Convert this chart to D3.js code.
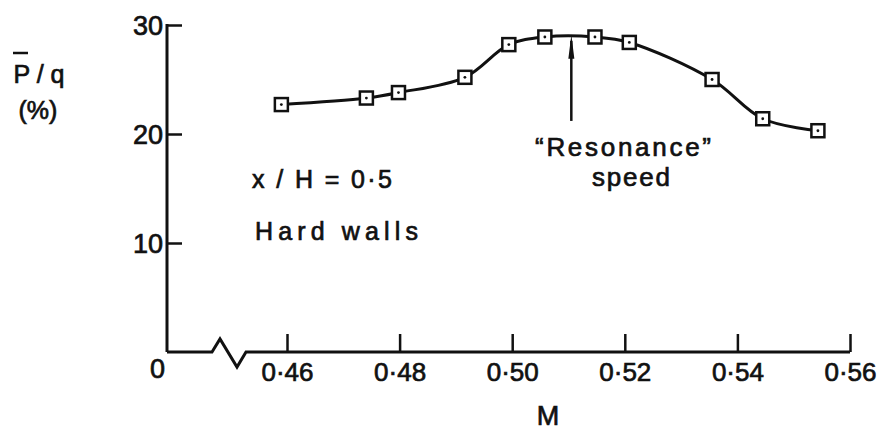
<!DOCTYPE html>
<meta charset="utf-8">
<script src="https://d3js.org/d3.v7.min.js"></script>
<style>
  body { margin: 0; background: #fff; }
  text { font-family: "Liberation Sans", Arial, sans-serif; fill: #111; stroke: #111; stroke-width: 0.7px; }
</style>
<div id="chart"></div>
<script>

// values
var machNumbers   = [0.4590, 0.4741, 0.4798, 0.4916, 0.4994, 0.5058, 0.5147, 0.5208, 0.5355, 0.5445, 0.5543];
var pressureRatio = [22.7, 23.3, 23.8, 25.2, 28.2, 28.9, 28.9, 28.4, 25.0, 21.4, 20.3];

var xTicks      = [0.46, 0.48, 0.50, 0.52, 0.54, 0.56];
var xTickLabels = ["0·46", "0·48", "0·50", "0·52", "0·54", "0·56"];
var yTicks      = [10, 20, 30];
var yTickLabels = ["10", "20", "30"];

// "Resonance" speed arrow
var resonanceMach = 0.5105;
var resonanceArrow = [21.2, 29.1];   // from / to, in P/q %

var width = 892, height = 432;

var svg = d3.select("#chart")
  .append("svg")
    .attr("width", width)
    .attr("height", height);

var x = d3.scaleLinear().domain([0.46, 0.56]).range([287, 850]);
var y = d3.scaleLinear().domain([0, 30]).range([352, 25]);
var x0 = 167;   // where the broken axis starts (M = 0 side)

// y axis, ticks pointing inward
var yAxis = d3.axisLeft(y)
  .tickValues(yTicks)
  .tickFormat(function(d, i) { return yTickLabels[i]; })
  .tickSizeInner(-15)
  .tickSizeOuter(0)
  .tickPadding(4);

var gy = svg.append("g")
  .attr("transform", "translate(" + x0 + ",0)")
  .call(yAxis);
gy.select(".domain").remove();
gy.selectAll(".tick line").attr("stroke", "#111").attr("stroke-width", 2.5);
gy.selectAll(".tick text")
  .style("font-size", "27px")
  .attr("dy", "0.36em");

svg.append("line")
  .attr("x1", x0).attr("x2", x0)
  .attr("y1", y(30) - 1).attr("y2", y(0))
  .attr("stroke", "#111").attr("stroke-width", 3);

// x axis, ticks pointing up
var xAxis = d3.axisBottom(x)
  .tickValues(xTicks)
  .tickFormat(function(d, i) { return xTickLabels[i]; })
  .tickSizeInner(-18)
  .tickSizeOuter(0)
  .tickPadding(11);

var gx = svg.append("g")
  .attr("transform", "translate(0," + y(0) + ")")
  .call(xAxis);
gx.select(".domain").remove();
gx.selectAll(".tick line").attr("stroke", "#111").attr("stroke-width", 2.5);
gx.selectAll(".tick text").style("font-size", "26px");

// axis baseline with the break
var y0 = y(0);
var breakLine = d3.line()([
  [x0, y0], [212, y0], [220, y0 - 13], [237, y0 + 15], [246, y0], [x(0.56), y0]
]);
svg.append("path")
  .attr("d", breakLine)
  .attr("fill", "none")
  .attr("stroke", "#111")
  .attr("stroke-width", 3)
  .attr("stroke-linejoin", "miter");

svg.append("text")
  .attr("x", x0 - 2).attr("y", 378)
  .attr("text-anchor", "end")
  .style("font-size", "27px")
  .text("0");

// axis titles
svg.append("text")
  .attr("x", 548).attr("y", 425)
  .attr("text-anchor", "middle")
  .style("font-size", "27px")
  .text("M");

svg.append("text")
  .attr("x", 39).attr("y", 83)
  .attr("text-anchor", "middle")
  .style("font-size", "25px")
  .text("P / q");
svg.append("line")
  .attr("x1", 13).attr("x2", 28)
  .attr("y1", 53).attr("y2", 53)
  .attr("stroke", "#111").attr("stroke-width", 2.5);
svg.append("text")
  .attr("x", 38).attr("y", 119)
  .attr("text-anchor", "middle")
  .style("font-size", "25px")
  .text("(%)");

// data curve
var points = machNumbers.map(function(m, i) { return [m, pressureRatio[i]]; });

var line = d3.line()
  .x(function(d) { return x(d[0]); })
  .y(function(d) { return y(d[1]); })
  .curve(d3.curveCatmullRom.alpha(0.5));

svg.append("path")
  .datum(points)
  .attr("d", line)
  .attr("fill", "none")
  .attr("stroke", "#111")
  .attr("stroke-width", 3);

// square markers with a centre dot
var marks = svg.selectAll("g.mark")
  .data(points)
  .enter()
  .append("g")
    .attr("class", "mark")
    .attr("transform", function(d) { return "translate(" + x(d[0]) + "," + y(d[1]) + ")"; });

marks.append("rect")
  .attr("x", -6.5).attr("y", -6.5)
  .attr("width", 13).attr("height", 13)
  .attr("fill", "#fff")
  .attr("stroke", "#111")
  .attr("stroke-width", 2.5);
marks.append("circle")
  .attr("r", 1.4)
  .attr("fill", "#111");

// resonance arrow
var ax = x(resonanceMach);
svg.append("line")
  .attr("x1", ax).attr("x2", ax)
  .attr("y1", y(resonanceArrow[0])).attr("y2", y(resonanceArrow[1]) + 6)
  .attr("stroke", "#111").attr("stroke-width", 2.5);
svg.append("path")
  .attr("d", d3.line()([
    [ax, y(resonanceArrow[1])], [ax + 3, y(resonanceArrow[1]) + 24], [ax - 3, y(resonanceArrow[1]) + 24]
  ]) + "Z")
  .attr("fill", "#111");

// annotations
svg.append("text")
  .attr("x", 535).attr("y", 156)
  .attr("textLength", 176)
  .attr("lengthAdjust", "spacing")
  .style("font-size", "26px")
  .text("\u201CResonance\u201D");
svg.append("text")
  .attr("x", 592).attr("y", 186)
  .attr("textLength", 78)
  .attr("lengthAdjust", "spacing")
  .style("font-size", "26px")
  .text("speed");

svg.append("text")
  .attr("x", 252).attr("y", 188)
  .attr("textLength", 140)
  .attr("lengthAdjust", "spacing")
  .style("font-size", "25px")
  .text("x / H = 0·5");
svg.append("text")
  .attr("x", 255).attr("y", 240)
  .attr("textLength", 163)
  .attr("lengthAdjust", "spacing")
  .style("font-size", "25px")
  .text("Hard walls");

</script>
